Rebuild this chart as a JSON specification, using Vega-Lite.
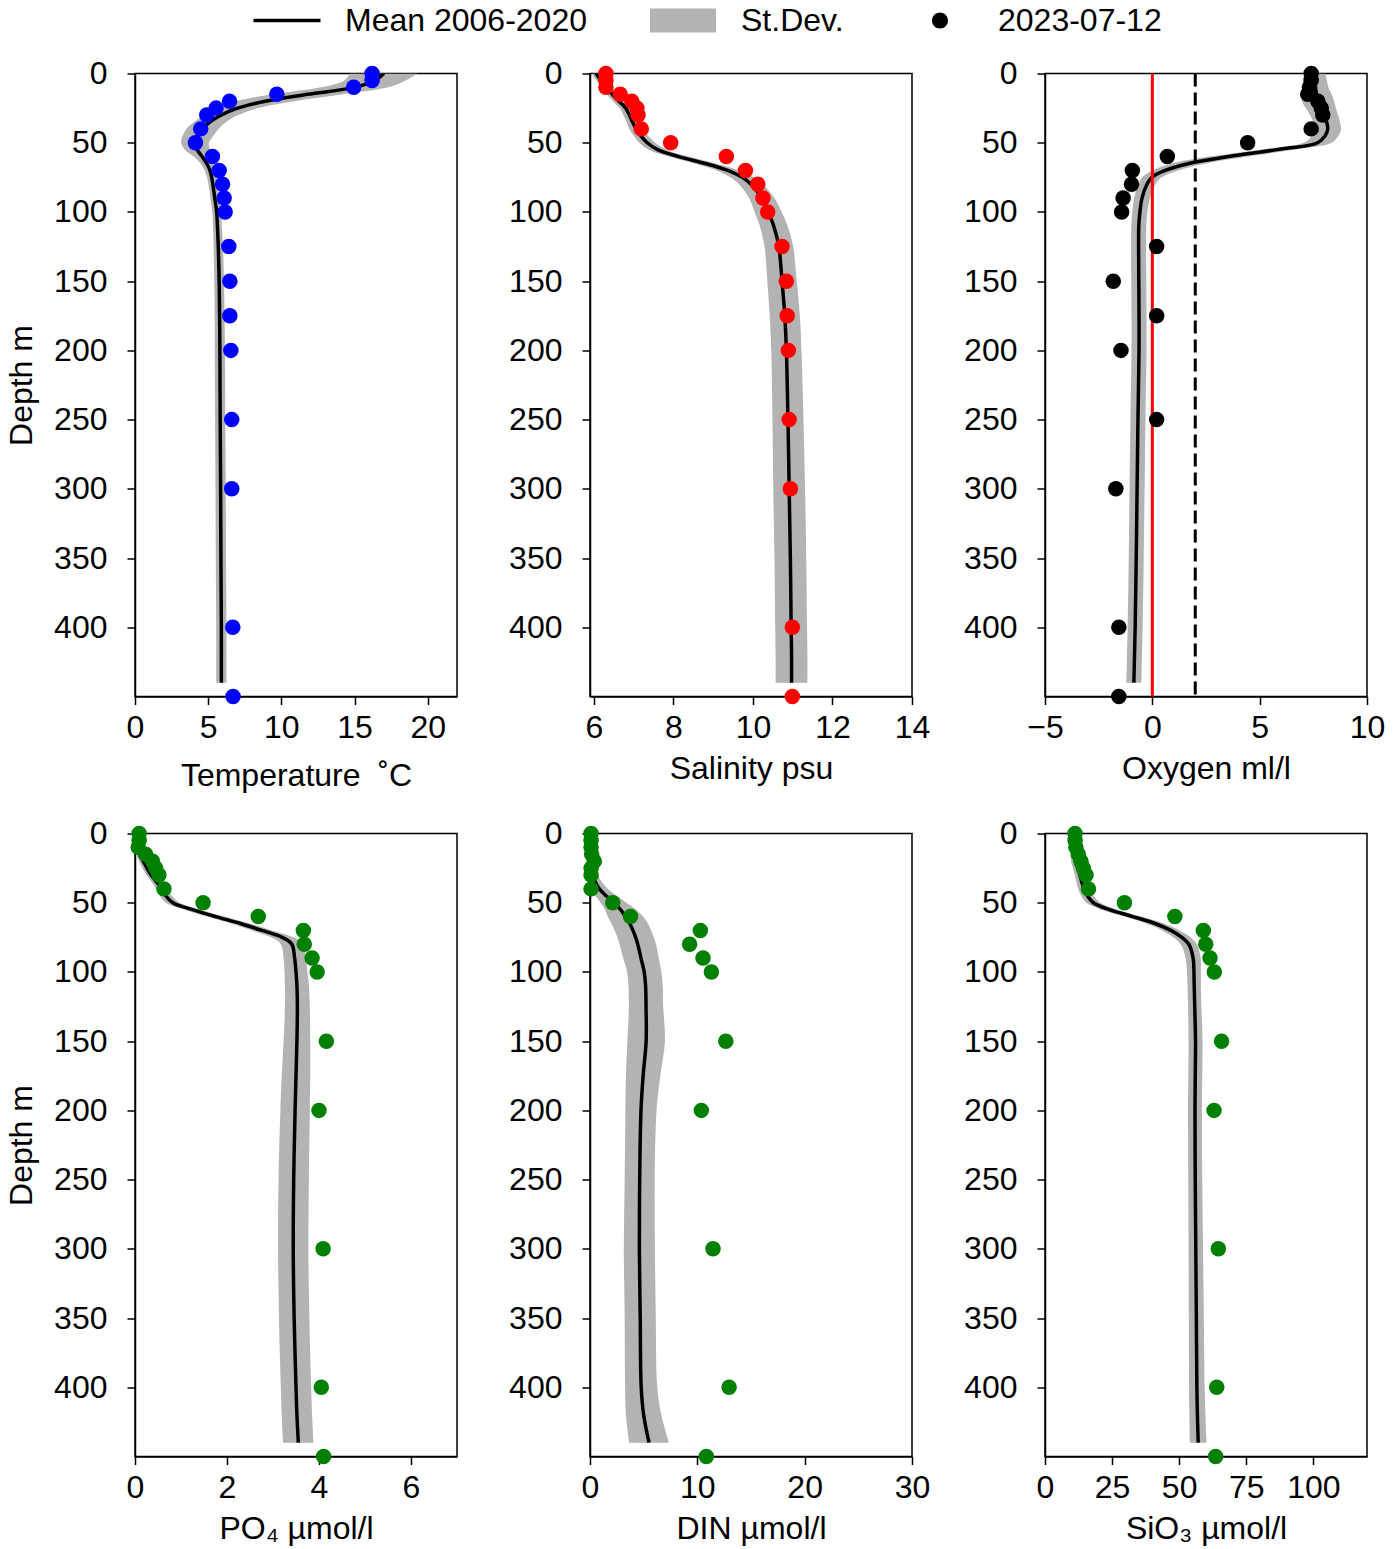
{
  "$schema": "https://vega.github.io/schema/vega-lite/v6.json",
  "padding": {"left": 4, "top": 3.5, "right": 20, "bottom": 10},
  "background": "white",
  "bounds": "flush",
  "columns": 3,
  "spacing": {"row": 137, "column": 133},
  "config": {
    "font": "Liberation Sans",
    "view": {"stroke": "black", "strokeWidth": 1.5},
    "axis": {
      "labelFont": "Liberation Sans", "labelFontSize": 32, "labelColor": "black",
      "titleFont": "Liberation Sans", "titleFontSize": 32, "titleFontWeight": "normal", "titleColor": "black",
      "domainColor": "black", "domainWidth": 1.5, "tickColor": "black", "tickWidth": 1.5, "tickSize": 8,
      "grid": false, "labelFlush": false, "labelOverlap": false
    },
    "axisX": {"labelPadding": 8, "titlePadding": 10},
    "axisY": {"labelPadding": 20, "titlePadding": 15},
    "legend": {
      "labelFont": "Liberation Sans", "labelFontSize": 32, "labelColor": "black", "padding": 0, "labelLimit": 600
    }
  },
  "datasets": {
    "prof": [
      {"d":0,"T":17.0,"Tl":14.7,"Th":19.3,"S":6.05,"Sl":5.93,"Sh":6.17,"O":7.55,"Ol":7.05,"Oh":8.05,"P":0.02,"Pl":-0.04,"Ph":0.08,"N":0.1,"Nl":-0.1,"Nh":0.3,"Si":10.5,"Sil":9.2,"Sih":11.8},
      {"d":5,"T":16.4,"Tl":14.3,"Th":18.5,"S":6.18,"Sl":6.06,"Sh":6.30,"O":7.58,"Ol":7.03,"Oh":8.13,"P":0.03,"Pl":-0.04,"Ph":0.10,"N":0.1,"Nl":-0.1,"Nh":0.3,"Si":10.7,"Sil":9.3,"Sih":12.1},
      {"d":10,"T":15.0,"Tl":12.7,"Th":17.3,"S":6.32,"Sl":6.19,"Sh":6.45,"O":7.6,"Ol":7.0,"Oh":8.2,"P":0.05,"Pl":-0.03,"Ph":0.13,"N":0.12,"Nl":-0.1,"Nh":0.34,"Si":10.9,"Sil":9.4,"Sih":12.4},
      {"d":15,"T":11.8,"Tl":9.4,"Th":14.2,"S":6.46,"Sl":6.32,"Sh":6.60,"O":7.65,"Ol":6.95,"Oh":8.35,"P":0.1,"Pl":0.02,"Ph":0.18,"N":0.15,"Nl":-0.1,"Nh":0.4,"Si":11.1,"Sil":9.5,"Sih":12.7},
      {"d":20,"T":8.9,"Tl":6.9,"Th":10.9,"S":6.63,"Sl":6.48,"Sh":6.78,"O":7.72,"Ol":6.97,"Oh":8.47,"P":0.18,"Pl":0.09,"Ph":0.27,"N":0.2,"Nl":-0.1,"Nh":0.5,"Si":11.4,"Sil":9.7,"Sih":13.1},
      {"d":25,"T":7.0,"Tl":5.6,"Th":8.4,"S":6.8,"Sl":6.65,"Sh":6.95,"O":7.85,"Ol":7.15,"Oh":8.55,"P":0.26,"Pl":0.16,"Ph":0.36,"N":0.25,"Nl":-0.1,"Nh":0.6,"Si":12.2,"Sil":10.4,"Sih":14.0},
      {"d":30,"T":5.9,"Tl":4.75,"Th":7.05,"S":6.89,"Sl":6.74,"Sh":7.04,"O":8.0,"Ol":7.35,"Oh":8.65,"P":0.35,"Pl":0.25,"Ph":0.45,"N":0.3,"Nl":-0.15,"Nh":0.75,"Si":13.0,"Sil":11.1,"Sih":14.9},
      {"d":35,"T":5.13,"Tl":4.03,"Th":6.23,"S":6.97,"Sl":6.82,"Sh":7.12,"O":8.12,"Ol":7.5,"Oh":8.74,"P":0.47,"Pl":0.36,"Ph":0.58,"N":0.5,"Nl":-0.1,"Nh":1.1,"Si":13.7,"Sil":11.7,"Sih":15.7},
      {"d":40,"T":4.6,"Tl":3.5,"Th":5.7,"S":7.06,"Sl":6.89,"Sh":7.23,"O":8.17,"Ol":7.55,"Oh":8.79,"P":0.58,"Pl":0.46,"Ph":0.70,"N":0.87,"Nl":0.07,"Nh":1.67,"Si":14.5,"Sil":12.4,"Sih":16.6},
      {"d":45,"T":4.3,"Tl":3.25,"Th":5.35,"S":7.18,"Sl":7.0,"Sh":7.36,"O":8.05,"Ol":7.43,"Oh":8.67,"P":0.67,"Pl":0.54,"Ph":0.80,"N":1.5,"Nl":0.5,"Nh":2.5,"Si":15.8,"Sil":13.5,"Sih":18.1},
      {"d":50,"T":4.1,"Tl":3.15,"Th":5.05,"S":7.34,"Sl":7.14,"Sh":7.54,"O":7.7,"Ol":7.05,"Oh":8.35,"P":0.82,"Pl":0.67,"Ph":0.97,"N":2.2,"Nl":1.0,"Nh":3.4,"Si":18.0,"Sil":15.4,"Sih":20.6},
      {"d":55,"T":4.25,"Tl":3.4,"Th":5.1,"S":7.6,"Sl":7.38,"Sh":7.82,"O":5.8,"Ol":5.0,"Oh":6.6,"P":1.25,"Pl":1.08,"Ph":1.42,"N":2.85,"Nl":1.4,"Nh":4.3,"Si":24.0,"Sil":21.0,"Sih":27.0},
      {"d":60,"T":4.58,"Tl":4.03,"Th":5.13,"S":8.13,"Sl":7.88,"Sh":8.38,"O":3.55,"Ol":2.65,"Oh":4.45,"P":1.75,"Pl":1.56,"Ph":1.94,"N":3.3,"Nl":1.65,"Nh":4.95,"Si":32.7,"Sil":29.5,"Sih":35.9},
      {"d":65,"T":4.9,"Tl":4.48,"Th":5.32,"S":8.8,"Sl":8.53,"Sh":9.07,"O":1.7,"Ol":0.9,"Oh":2.5,"P":2.29,"Pl":2.09,"Ph":2.49,"N":3.7,"Nl":2.0,"Nh":5.4,"Si":41.0,"Sil":37.7,"Sih":44.3},
      {"d":70,"T":5.12,"Tl":4.77,"Th":5.47,"S":9.36,"Sl":9.08,"Sh":9.64,"O":0.6,"Ol":0.0,"Oh":1.2,"P":2.76,"Pl":2.54,"Ph":2.98,"N":4.0,"Nl":2.3,"Nh":5.7,"Si":46.9,"Sil":43.6,"Sih":50.2},
      {"d":75,"T":5.24,"Tl":4.92,"Th":5.56,"S":9.73,"Sl":9.43,"Sh":10.03,"O":-0.02,"Ol":-0.47,"Oh":0.43,"P":3.2,"Pl":2.96,"Ph":3.44,"N":4.25,"Nl":2.55,"Nh":5.95,"Si":51.0,"Sil":47.8,"Sih":54.2},
      {"d":80,"T":5.32,"Tl":5.02,"Th":5.62,"S":9.95,"Sl":9.65,"Sh":10.25,"O":-0.25,"Ol":-0.65,"Oh":0.15,"P":3.41,"Pl":3.17,"Ph":3.65,"N":4.45,"Nl":2.75,"Nh":6.15,"Si":53.6,"Sil":50.6,"Sih":56.6},
      {"d":90,"T":5.45,"Tl":5.15,"Th":5.75,"S":10.22,"Sl":9.9,"Sh":10.54,"O":-0.48,"Ol":-0.85,"Oh":-0.11,"P":3.47,"Pl":3.23,"Ph":3.71,"N":4.75,"Nl":3.1,"Nh":6.4,"Si":55.2,"Sil":52.4,"Sih":58.0},
      {"d":100,"T":5.58,"Tl":5.28,"Th":5.88,"S":10.38,"Sl":10.04,"Sh":10.72,"O":-0.58,"Ol":-0.93,"Oh":-0.23,"P":3.5,"Pl":3.25,"Ph":3.75,"N":5.05,"Nl":3.45,"Nh":6.65,"Si":55.5,"Sil":52.9,"Sih":58.1},
      {"d":110,"T":5.63,"Tl":5.33,"Th":5.93,"S":10.52,"Sl":10.17,"Sh":10.87,"O":-0.63,"Ol":-0.98,"Oh":-0.28,"P":3.52,"Pl":3.26,"Ph":3.78,"N":5.18,"Nl":3.58,"Nh":6.78,"Si":55.6,"Sil":53.1,"Sih":58.1},
      {"d":125,"T":5.69,"Tl":5.37,"Th":6.01,"S":10.65,"Sl":10.29,"Sh":11.01,"O":-0.64,"Ol":-0.99,"Oh":-0.29,"P":3.53,"Pl":3.26,"Ph":3.80,"N":5.22,"Nl":3.62,"Nh":6.82,"Si":55.8,"Sil":53.3,"Sih":58.3},
      {"d":150,"T":5.75,"Tl":5.42,"Th":6.08,"S":10.73,"Sl":10.36,"Sh":11.1,"O":-0.63,"Ol":-0.98,"Oh":-0.28,"P":3.52,"Pl":3.23,"Ph":3.81,"N":5.23,"Nl":3.48,"Nh":6.98,"Si":56.1,"Sil":53.5,"Sih":58.7},
      {"d":175,"T":5.78,"Tl":5.44,"Th":6.12,"S":10.8,"Sl":10.42,"Sh":11.18,"O":-0.62,"Ol":-0.97,"Oh":-0.27,"P":3.5,"Pl":3.19,"Ph":3.81,"N":4.95,"Nl":3.35,"Nh":6.55,"Si":56.0,"Sil":53.4,"Sih":58.6},
      {"d":200,"T":5.8,"Tl":5.45,"Th":6.15,"S":10.84,"Sl":10.46,"Sh":11.22,"O":-0.62,"Ol":-0.97,"Oh":-0.27,"P":3.48,"Pl":3.16,"Ph":3.80,"N":4.75,"Nl":3.3,"Nh":6.2,"Si":55.9,"Sil":53.3,"Sih":58.5},
      {"d":250,"T":5.82,"Tl":5.47,"Th":6.17,"S":10.88,"Sl":10.49,"Sh":11.27,"O":-0.67,"Ol":-1.02,"Oh":-0.32,"P":3.45,"Pl":3.12,"Ph":3.78,"N":4.63,"Nl":3.23,"Nh":6.03,"Si":56.0,"Sil":53.4,"Sih":58.6},
      {"d":300,"T":5.85,"Tl":5.5,"Th":6.2,"S":10.91,"Sl":10.51,"Sh":11.31,"O":-0.71,"Ol":-1.06,"Oh":-0.36,"P":3.44,"Pl":3.11,"Ph":3.77,"N":4.6,"Nl":3.15,"Nh":6.05,"Si":56.2,"Sil":53.5,"Sih":58.9},
      {"d":350,"T":5.87,"Tl":5.52,"Th":6.22,"S":10.94,"Sl":10.54,"Sh":11.34,"O":-0.75,"Ol":-1.1,"Oh":-0.4,"P":3.46,"Pl":3.13,"Ph":3.79,"N":4.68,"Nl":3.23,"Nh":6.13,"Si":56.4,"Sil":53.6,"Sih":59.2},
      {"d":400,"T":5.9,"Tl":5.55,"Th":6.25,"S":10.96,"Sl":10.56,"Sh":11.36,"O":-0.8,"Ol":-1.15,"Oh":-0.45,"P":3.5,"Pl":3.17,"Ph":3.83,"N":4.77,"Nl":3.27,"Nh":6.27,"Si":56.6,"Sil":53.7,"Sih":59.5},
      {"d":420,"T":5.9,"Tl":5.55,"Th":6.25,"S":10.97,"Sl":10.57,"Sh":11.37,"O":-0.83,"Ol":-1.18,"Oh":-0.48,"P":3.52,"Pl":3.19,"Ph":3.85,"N":5.0,"Nl":3.35,"Nh":6.65,"Si":56.8,"Sil":53.8,"Sih":59.8},
      {"d":440,"T":5.9,"Tl":5.55,"Th":6.25,"S":10.97,"Sl":10.57,"Sh":11.37,"O":-0.86,"Ol":-1.21,"Oh":-0.51,"P":3.55,"Pl":3.22,"Ph":3.88,"N":5.5,"Nl":3.65,"Nh":7.35,"Si":57.1,"Sil":54.0,"Sih":60.2}
    ],
    "obs": [
      {"d":0,"T":16.2,"S":6.30,"O":7.40,"P":0.09,"N":0.1,"Si":11.2},
      {"d":5,"T":16.2,"S":6.30,"O":7.40,"P":0.09,"N":0.1,"Si":11.2},
      {"d":10,"T":14.94,"S":6.30,"O":7.32,"P":0.07,"N":0.1,"Si":11.5},
      {"d":15,"T":9.69,"S":6.66,"O":7.24,"P":0.23,"N":0.15,"Si":12.4},
      {"d":20,"T":6.46,"S":6.95,"O":7.71,"P":0.38,"N":0.4,"Si":13.4},
      {"d":25,"T":5.54,"S":7.08,"O":7.87,"P":0.45,"N":0.1,"Si":14.3},
      {"d":30,"T":4.90,"S":7.11,"O":7.94,"P":0.52,"N":0.1,"Si":15.3},
      {"d":40,"T":4.49,"S":7.19,"O":7.40,"P":0.63,"N":0.1,"Si":16.2},
      {"d":50,"T":4.13,"S":7.93,"O":4.44,"P":1.48,"N":2.12,"Si":29.6},
      {"d":60,"T":5.29,"S":9.33,"O":0.70,"P":2.68,"N":3.77,"Si":48.4},
      {"d":70,"T":5.75,"S":9.81,"O":-0.93,"P":3.66,"N":10.28,"Si":59.0},
      {"d":80,"T":5.98,"S":10.12,"O":-0.97,"P":3.68,"N":9.28,"Si":59.9},
      {"d":90,"T":6.09,"S":10.25,"O":-1.36,"P":3.85,"N":10.53,"Si":61.5},
      {"d":100,"T":6.16,"S":10.37,"O":-1.43,"P":3.96,"N":11.31,"Si":63.1},
      {"d":125,"T":6.41,"S":10.73,"O":0.20,"P":null,"N":null,"Si":null},
      {"d":150,"T":6.48,"S":10.84,"O":-1.82,"P":4.16,"N":12.65,"Si":65.8},
      {"d":175,"T":6.48,"S":10.86,"O":0.20,"P":null,"N":null,"Si":null},
      {"d":200,"T":6.55,"S":10.89,"O":-1.46,"P":4.00,"N":10.37,"Si":63.0},
      {"d":250,"T":6.61,"S":10.91,"O":0.20,"P":null,"N":null,"Si":null},
      {"d":300,"T":6.61,"S":10.94,"O":-1.70,"P":4.09,"N":11.46,"Si":64.6},
      {"d":400,"T":6.68,"S":10.99,"O":-1.56,"P":4.05,"N":12.96,"Si":64.0},
      {"d":450,"T":6.70,"S":10.99,"O":-1.56,"P":4.10,"N":10.84,"Si":63.6}
    ],
    "leg": [
      {"k":"Mean 2006-2020","d":1000,"T":10},
      {"k":"St.Dev.","d":1000,"T":10},
      {"k":"2023-07-12","d":1000,"T":10}
    ],
    "ref": [{"O":0,"kind":"zero"}],
    "ref2": [{"O":2,"kind":"hyp"}]
  },
  "concat": [
    {
      "width": 322, "height": 623,
      "layer": [
        {"data":{"name":"prof"},"mark":{"type":"area","orient":"horizontal","color":"#b3b3b3","clip":true,"interpolate":"catmull-rom"},
         "encoding":{"y":{"field":"d","type":"quantitative","scale":{"domain":[0,450],"reverse":true,"nice":false,"zero":false},"axis":{"values":[0,50,100,150,200,250,300,350,400],"title":"Depth m"}},
                     "x":{"field":"Tl","type":"quantitative","scale":{"domain":[0,22],"nice":false,"zero":false},"axis":{"values":[0,5,10,15,20],"title":"Temperature \u00a0˚C","titlePadding":17}},"x2":{"field":"Th"}}},
        {"data":{"name":"prof"},"mark":{"type":"line","color":"black","strokeWidth":3.5,"clip":true,"interpolate":"catmull-rom"},
         "encoding":{"y":{"field":"d","type":"quantitative"},"x":{"field":"T","type":"quantitative"},"order":{"field":"d","type":"quantitative"}}},
        {"data":{"name":"obs"},"mark":{"type":"circle","color":"#0000ff","size":240,"opacity":1},
         "encoding":{"y":{"field":"d","type":"quantitative"},"x":{"field":"T","type":"quantitative"}}},
        {"data":{"name":"leg"},"mark":{"type":"point","filled":true,"opacity":1,"clip":true},
         "encoding":{"y":{"field":"d","type":"quantitative"},"x":{"field":"T","type":"quantitative"},
           "color":{"field":"k","type":"nominal","scale":{"domain":["Mean 2006-2020","St.Dev.","2023-07-12"],"range":["#000000","#b3b3b3","#000000"]},
             "legend":{"title":null,"orient":"none","legendX":135,"legendY":-70,"direction":"horizontal","symbolSize":1122,"symbolStrokeWidth":0,"labelOffset":41,"columnPadding":63,"labelFontSize":32,"labelLimit":600}},
           "shape":{"field":"k","type":"nominal","scale":{"domain":["Mean 2006-2020","St.Dev.","2023-07-12"],"range":["M-2,-0.1L2,-0.1L2,0.1L-2,0.1Z","M-1.97,-0.72L1.97,-0.72L1.97,0.72L-1.97,0.72Z","M-1.97,0L1.97,0Z M-0.48,0A0.48,0.48 0 1,0 0.48,0A0.48,0.48 0 1,0 -0.48,0Z"]},
             "legend":{"title":null,"orient":"none","legendX":135,"legendY":-70,"direction":"horizontal","symbolSize":1122,"symbolStrokeWidth":0,"labelOffset":41,"columnPadding":63,"labelFontSize":32,"labelLimit":600}}}}
      ]
    },
    {
      "width": 322, "height": 623,
      "layer": [
        {"data":{"name":"prof"},"mark":{"type":"area","orient":"horizontal","color":"#b3b3b3","clip":true,"interpolate":"catmull-rom"},
         "encoding":{"y":{"field":"d","type":"quantitative","scale":{"domain":[0,450],"reverse":true,"nice":false,"zero":false},"axis":{"values":[0,50,100,150,200,250,300,350,400],"title":null}},
                     "x":{"field":"Sl","type":"quantitative","scale":{"domain":[5.9,14],"nice":false,"zero":false},"axis":{"values":[6,8,10,12,14],"title":"Salinity psu"}},"x2":{"field":"Sh"}}},
        {"data":{"name":"prof"},"mark":{"type":"line","color":"black","strokeWidth":3.5,"clip":true,"interpolate":"catmull-rom"},
         "encoding":{"y":{"field":"d","type":"quantitative"},"x":{"field":"S","type":"quantitative"},"order":{"field":"d","type":"quantitative"}}},
        {"data":{"name":"obs"},"mark":{"type":"circle","color":"#ff0000","size":240,"opacity":1},
         "encoding":{"y":{"field":"d","type":"quantitative"},"x":{"field":"S","type":"quantitative"}}}
      ]
    },
    {
      "width": 322, "height": 623,
      "layer": [
        {"data":{"name":"prof"},"mark":{"type":"area","orient":"horizontal","color":"#b3b3b3","clip":true,"interpolate":"catmull-rom"},
         "encoding":{"y":{"field":"d","type":"quantitative","scale":{"domain":[0,450],"reverse":true,"nice":false,"zero":false},"axis":{"values":[0,50,100,150,200,250,300,350,400],"title":null}},
                     "x":{"field":"Ol","type":"quantitative","scale":{"domain":[-5,10],"nice":false,"zero":false},"axis":{"values":[-5,0,5,10],"title":"Oxygen ml/l"}},"x2":{"field":"Oh"}}},
        {"data":{"name":"prof"},"mark":{"type":"line","color":"black","strokeWidth":3.5,"clip":true,"interpolate":"catmull-rom"},
         "encoding":{"y":{"field":"d","type":"quantitative"},"x":{"field":"O","type":"quantitative"},"order":{"field":"d","type":"quantitative"}}},
        {"data":{"name":"ref"},"mark":{"type":"rule","color":"#ff0000","strokeWidth":3},
         "encoding":{"x":{"field":"O","type":"quantitative"}}},
        {"data":{"name":"ref2"},"mark":{"type":"rule","color":"black","strokeWidth":3,"strokeDash":[13,6]},
         "encoding":{"x":{"field":"O","type":"quantitative"}}},
        {"data":{"name":"obs"},"mark":{"type":"circle","color":"#000000","size":240,"opacity":1},
         "encoding":{"y":{"field":"d","type":"quantitative"},"x":{"field":"O","type":"quantitative"}}}
      ]
    },
    {
      "width": 322, "height": 623,
      "layer": [
        {"data":{"name":"prof"},"mark":{"type":"area","orient":"horizontal","color":"#b3b3b3","clip":true,"interpolate":"catmull-rom"},
         "encoding":{"y":{"field":"d","type":"quantitative","scale":{"domain":[0,450],"reverse":true,"nice":false,"zero":false},"axis":{"values":[0,50,100,150,200,250,300,350,400],"title":"Depth m"}},
                     "x":{"field":"Pl","type":"quantitative","scale":{"domain":[0,7],"nice":false,"zero":false},"axis":{"values":[0,2,4,6],"title":"PO₄ µmol/l"}},"x2":{"field":"Ph"}}},
        {"data":{"name":"prof"},"mark":{"type":"line","color":"black","strokeWidth":3.5,"clip":true,"interpolate":"catmull-rom"},
         "encoding":{"y":{"field":"d","type":"quantitative"},"x":{"field":"P","type":"quantitative"},"order":{"field":"d","type":"quantitative"}}},
        {"data":{"name":"obs"},"mark":{"type":"circle","color":"#008000","size":240,"opacity":1},
         "encoding":{"y":{"field":"d","type":"quantitative"},"x":{"field":"P","type":"quantitative"}}}
      ]
    },
    {
      "width": 322, "height": 623,
      "layer": [
        {"data":{"name":"prof"},"mark":{"type":"area","orient":"horizontal","color":"#b3b3b3","clip":true,"interpolate":"catmull-rom"},
         "encoding":{"y":{"field":"d","type":"quantitative","scale":{"domain":[0,450],"reverse":true,"nice":false,"zero":false},"axis":{"values":[0,50,100,150,200,250,300,350,400],"title":null}},
                     "x":{"field":"Nl","type":"quantitative","scale":{"domain":[0,30],"nice":false,"zero":false},"axis":{"values":[0,10,20,30],"title":"DIN µmol/l"}},"x2":{"field":"Nh"}}},
        {"data":{"name":"prof"},"mark":{"type":"line","color":"black","strokeWidth":3.5,"clip":true,"interpolate":"catmull-rom"},
         "encoding":{"y":{"field":"d","type":"quantitative"},"x":{"field":"N","type":"quantitative"},"order":{"field":"d","type":"quantitative"}}},
        {"data":{"name":"obs"},"mark":{"type":"circle","color":"#008000","size":240,"opacity":1},
         "encoding":{"y":{"field":"d","type":"quantitative"},"x":{"field":"N","type":"quantitative"}}}
      ]
    },
    {
      "width": 322, "height": 623,
      "layer": [
        {"data":{"name":"prof"},"mark":{"type":"area","orient":"horizontal","color":"#b3b3b3","clip":true,"interpolate":"catmull-rom"},
         "encoding":{"y":{"field":"d","type":"quantitative","scale":{"domain":[0,450],"reverse":true,"nice":false,"zero":false},"axis":{"values":[0,50,100,150,200,250,300,350,400],"title":null}},
                     "x":{"field":"Sil","type":"quantitative","scale":{"domain":[0,120],"nice":false,"zero":false},"axis":{"values":[0,25,50,75,100],"title":"SiO₃ µmol/l"}},"x2":{"field":"Sih"}}},
        {"data":{"name":"prof"},"mark":{"type":"line","color":"black","strokeWidth":3.5,"clip":true,"interpolate":"catmull-rom"},
         "encoding":{"y":{"field":"d","type":"quantitative"},"x":{"field":"Si","type":"quantitative"},"order":{"field":"d","type":"quantitative"}}},
        {"data":{"name":"obs"},"mark":{"type":"circle","color":"#008000","size":240,"opacity":1},
         "encoding":{"y":{"field":"d","type":"quantitative"},"x":{"field":"Si","type":"quantitative"}}}
      ]
    }
  ]
}
